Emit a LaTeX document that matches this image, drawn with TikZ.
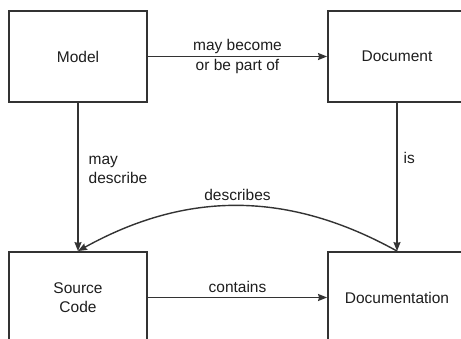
\documentclass[tikz,border=0pt]{standalone}
\usepackage{fontspec}
\setmainfont{Liberation Sans}
\usetikzlibrary{arrows.meta}
\definecolor{ink}{HTML}{333333}
\definecolor{txt}{HTML}{1E1E1E}
\begin{document}
\begin{tikzpicture}[x=1pt,y=1pt,
  font=\fontsize{15.5}{19}\selectfont,
  box/.style={draw=ink, line width=1.9pt, minimum width=138pt, minimum height=91pt,
              align=center, text=txt, inner sep=0pt},
  link/.style={draw=ink, line width=1.4pt, -{Stealth[length=9pt,width=7pt,inset=1pt]}},
  lbl/.style={text=txt, inner sep=1pt, align=left}]
  \useasboundingbox (0,0) rectangle (461,-339);
  \fill[white] (0,0) rectangle (461,-339);
  \clip (0,0) rectangle (461,-339);

  % the four artefacts
  \node[box] (model) at (78,-56.5) {Model};
  \node[box] (doc)   at (397,-56.5) {Document};
  \node[box] (src)   at (78,-297.5) {Source\\Code};
  \node[box] (docn)  at (397,-297.5) {Documentation};

  % relations between them
  \draw[link] (model) -- node[lbl, above=1pt] {may become}
                         node[lbl, below=1pt] {or be part of} (doc);
  \draw[link] (model) -- node[lbl, pos=0.45, right=9pt] {may\\describe} (src);
  \draw[link] (doc) -- node[lbl, pos=0.37, right=5pt] {is} (docn);
  \draw[link] (src) -- node[lbl, above=3pt] {contains} (docn);
  \draw[link] (docn.north) to[bend right=29]
        node[lbl, above=3pt] {describes} (src.north);
\end{tikzpicture}
\end{document}
